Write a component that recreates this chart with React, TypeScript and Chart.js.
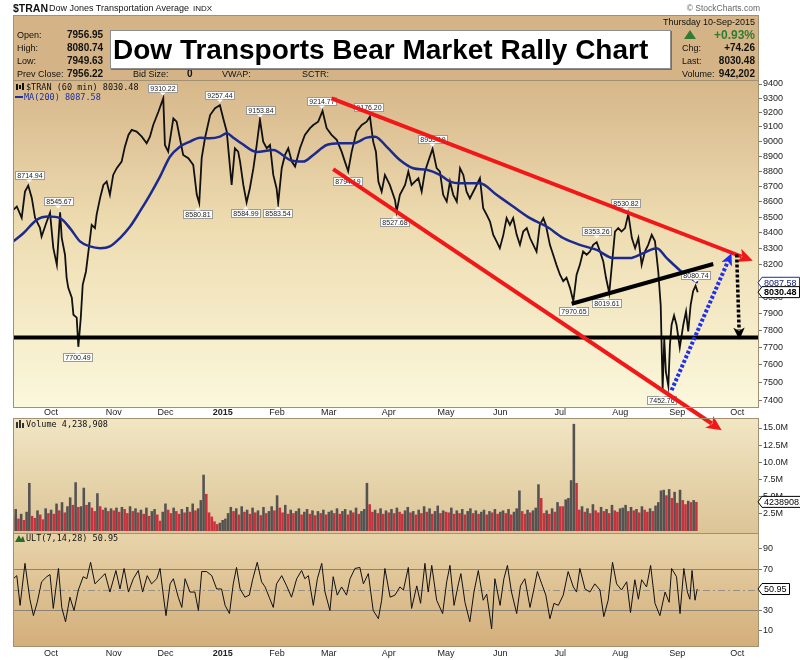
import React, { useEffect, useRef } from 'react';
import { Chart, registerables } from 'chart.js';

Chart.register(...registerables);

const FONT = '"Liberation Sans", Arial, sans-serif';
const MONO = '"DejaVu Sans Mono", "Liberation Mono", monospace';

// x values are trading-day numbers counted from 1-Oct-2014
const monthTicks = [0, 23, 42, 63, 83, 102, 124, 145, 165, 187, 209, 230, 252];
const monthLabels = ['Oct', 'Nov', 'Dec', '2015', 'Feb', 'Mar', 'Apr', 'May', 'Jun', 'Jul', 'Aug', 'Sep', 'Oct'];

const priceTicks = [7400, 7500, 7600, 7700, 7800, 7900, 8000, 8100, 8200, 8300, 8400, 8500, 8600, 8700, 8800, 8900, 9000, 9100, 9200, 9300, 9400];
const volumeTicks = [2.5, 5, 7.5, 10, 12.5, 15];
const ultTicks = [10, 30, 70, 90];
const ultBands = [30, 70];
const ultCenter = 50;

// $TRAN closes [day, price]
const tranCloses = [
  [-13.9, 8546], [-12.6, 8568], [-10.8, 8495], [-9.6, 8665], [-8.4, 8705], [-7.1, 8624], [-5.9, 8495], [-4.1, 8431], [-3.5, 8376], [-1.6, 8471],
  [-0.4, 8527], [0.8, 8304], [2.1, 8198], [3.3, 8530], [3.9, 8367], [5.1, 8261], [5.7, 8118], [6.3, 8057], [7.6, 7996], [8.2, 7894],
  [9.4, 7877], [10.0, 7705], [10.9, 7877], [11.6, 8075], [12.8, 8157], [14.0, 8323], [14.9, 8450], [16.1, 8429], [16.7, 8514], [18.0, 8624],
  [19.2, 8709], [20.4, 8731], [21.6, 8644], [22.8, 8775], [24.1, 8820], [25.9, 8864], [27.1, 8965], [28.4, 9045], [29.6, 9079], [31.4, 9068],
  [33.3, 9033], [35.1, 8988], [36.3, 9033], [37.5, 9113], [39.4, 9205], [41.2, 9300], [41.8, 8976], [43.0, 8931], [44.9, 9159], [46.1, 9136],
  [47.3, 9022], [48.5, 8909], [50.4, 8887], [52.2, 8842], [53.5, 8644], [54.4, 8590], [55.3, 8887], [56.5, 9022], [58.4, 9182], [60.2, 9229],
  [62.0, 9250], [63.2, 9159], [64.5, 9068], [65.4, 8887], [66.3, 8709], [67.5, 8954], [68.7, 8931], [69.4, 8864], [70.6, 8709], [71.8, 8595],
  [73.0, 8687], [74.3, 8820], [75.5, 8976], [76.7, 9150], [77.9, 8999], [79.2, 8954], [80.4, 8976], [81.6, 8775], [82.8, 8687], [83.4, 8590],
  [84.7, 8820], [85.9, 8909], [87.1, 8954], [88.4, 8864], [89.6, 8831], [91.4, 8954], [93.2, 9045], [95.1, 9091], [96.3, 9113], [98.1, 9136],
  [99.7, 9210], [101.2, 9091], [103.0, 9045], [104.9, 9011], [106.7, 8931], [107.9, 8864], [109.1, 8800], [110.4, 8931], [112.2, 9068], [114.1, 9113],
  [115.9, 9136], [117.1, 9171], [118.3, 8999], [119.3, 8931], [120.2, 8731], [121.4, 8665], [122.6, 8775], [124.4, 8709], [126.3, 8611], [126.9, 8535],
  [128.1, 8644], [130.0, 8709], [131.2, 8797], [132.4, 8709], [133.6, 8731], [134.9, 8753], [136.1, 8665], [137.3, 8797], [138.5, 8864], [140.1, 8950],
  [141.6, 8820], [142.8, 8797], [144.0, 8644], [145.3, 8600], [146.5, 8731], [147.7, 8644], [149.0, 8600], [150.2, 8820], [151.4, 8775], [152.6, 8665],
  [153.8, 8620], [155.7, 8687], [157.5, 8753], [158.7, 8557], [160.0, 8514], [161.2, 8471], [162.4, 8386], [163.6, 8345], [164.8, 8302], [166.1, 8386],
  [167.3, 8493], [168.5, 8450], [169.7, 8493], [171.0, 8386], [172.2, 8323], [173.4, 8407], [174.7, 8429], [175.9, 8366], [177.1, 8323], [178.3, 8281],
  [179.5, 8450], [180.8, 8493], [181.7, 8450], [183.2, 8323], [184.4, 8261], [185.6, 8198], [186.9, 8137], [188.1, 8097], [189.3, 8118], [190.6, 8055],
  [191.8, 7975], [193.0, 8137], [194.2, 8198], [195.4, 8281], [196.7, 8261], [197.9, 8281], [199.1, 8323], [200.4, 8340], [201.6, 8281], [202.8, 8219],
  [203.8, 8118], [205.0, 8025], [206.2, 8240], [207.1, 8407], [208.3, 8429], [209.5, 8407], [210.8, 8429], [212.0, 8520], [213.3, 8366], [214.5, 8302],
  [215.7, 8366], [216.9, 8198], [218.1, 8281], [219.3, 8323], [220.6, 8386], [221.8, 8345], [223.0, 8157], [223.9, 7950], [224.6, 7460], [225.2, 7750],
  [225.8, 7560], [226.7, 7480], [227.3, 7720], [227.9, 7835], [228.8, 7890], [229.7, 7835], [230.9, 7700], [232.2, 7835], [233.2, 7914], [234.0, 7795],
  [234.9, 7954], [235.8, 8036], [236.7, 8070], [237.5, 8030],
];

// MA(200) [day, value]
const ma200 = [
  [-13.9, 8345], [-10.2, 8396], [-5.3, 8482], [-1.0, 8503], [3.3, 8493], [6.9, 8429], [10.6, 8345], [14.3, 8313], [18.0, 8302], [21.6, 8313],
  [25.3, 8366], [29.0, 8439], [32.6, 8536], [36.3, 8644], [40.0, 8764], [43.7, 8898], [47.3, 8965], [51.0, 8999], [54.7, 9026], [58.3, 9022],
  [62.0, 9033], [64.5, 9056], [66.9, 9026], [69.7, 8990], [75.5, 8929], [81.6, 8943], [87.7, 8875], [92.6, 8864], [96.3, 8909], [101.2, 8976],
  [106.1, 8988], [111.0, 8988], [115.9, 9026], [119.0, 9033], [123.2, 8965], [128.1, 8875], [133.0, 8820], [137.9, 8809], [142.8, 8775], [146.5, 8731],
  [150.2, 8720], [155.0, 8720], [157.5, 8720], [163.6, 8644], [169.7, 8568], [175.9, 8493], [182.0, 8439], [188.1, 8366], [194.2, 8323], [200.4, 8291],
  [206.5, 8240], [212.6, 8240], [217.5, 8271], [222.4, 8302], [226.1, 8240], [230.9, 8165], [234.6, 8120], [237.5, 8088],
];

// daily volume (millions), first bar on day -14
const volumeStartDay = -14;
const volumes = [
  2.1, 3.2, 1.8, 2.5, 1.6, 2.8, 7.0, 2.2, 1.9, 3.0, 2.4, 1.7, 3.3, 2.6,
  3.1, 2.5, 4.0, 3.0, 4.2, 2.7, 3.6, 4.9, 3.8, 7.1, 3.5, 3.6, 6.3, 3.8, 4.2, 3.4, 2.9, 5.5, 3.6, 3.1, 3.4, 2.9, 3.3,
  3.0, 3.4, 2.8, 3.5, 3.2, 2.6, 3.6, 2.9, 3.3, 2.7, 3.1, 2.5, 3.4, 2.2, 2.9, 3.2, 2.4, 1.5, 2.8,
  4.0, 3.1, 2.6, 3.4, 2.9, 2.5, 3.2, 2.7, 3.5, 2.8, 4.0, 3.0, 3.3, 4.5, 8.2, 5.4, 2.7, 2.1, 1.4, 1.0, 1.2, 1.6,
  1.8, 2.6, 3.5, 2.9, 3.3, 2.4, 3.6, 2.8, 3.1, 2.5, 3.4, 2.7, 3.0, 2.3, 3.5, 2.6, 2.9, 3.6, 3.0, 5.2,
  3.4, 2.7, 3.8, 2.5, 3.1, 2.6, 2.9, 3.3, 2.4, 2.8, 3.2, 2.5, 3.0, 2.3, 2.9, 2.6, 3.1, 2.4, 2.8,
  3.0, 2.6, 3.3, 2.5, 2.9, 3.2, 2.4, 3.0, 2.7, 3.4, 2.5, 2.9, 3.2, 7.0, 3.9, 2.8, 3.1, 2.6, 3.3, 2.5, 3.0, 2.7,
  3.2, 2.6, 3.4, 2.8, 2.5, 3.0, 3.5, 2.7, 2.9, 2.4, 3.1, 2.6, 3.6, 2.8, 3.3, 2.5, 2.9, 3.7, 2.6, 3.0, 2.8,
  2.7, 3.4, 2.5, 3.0, 2.6, 3.2, 2.4, 2.9, 3.3, 2.6, 3.0, 2.5, 2.8, 3.1, 2.4, 2.9, 2.7, 3.2, 2.5, 2.8,
  3.0, 2.6, 3.2, 2.4, 2.8, 3.3, 5.9, 2.9, 2.5, 3.1, 2.7, 3.0, 3.4, 6.8, 4.8, 2.6, 3.0, 2.5, 3.3, 2.8, 4.2, 3.6,
  3.6, 4.6, 4.8, 7.4, 15.6, 7.0, 3.1, 3.6, 2.8, 3.3, 2.6, 3.9, 3.0, 2.7, 3.5, 2.9, 3.2, 2.6, 3.8, 3.0, 2.8, 3.3,
  3.4, 3.8, 2.9, 3.5, 3.0, 3.2, 2.7, 3.6, 3.1, 2.8, 3.3, 2.9, 3.7, 4.2, 5.9, 6.0, 5.2, 6.1, 4.8, 5.7, 4.1,
  6.0, 4.5, 3.9, 4.4, 4.2, 4.5, 4.24,
];

// ULT(7,14,28) [day, value]
const ultPoints = [
  [-13.9, 61], [-12.6, 64], [-11.4, 35], [-9.6, 76], [-7.8, 41], [-6.5, 25], [-5.1, 38], [-3.5, 58], [-1.6, 63], [-0.4, 65],
  [0.8, 32], [2.7, 71], [3.9, 33], [5.3, 19], [6.9, 43], [8.4, 30], [10.0, 50], [11.8, 63], [13.1, 61], [14.5, 77],
  [16.1, 56], [18.0, 61], [19.8, 66], [21.6, 48], [23.8, 69], [25.3, 51], [26.8, 71], [28.4, 48], [30.2, 61], [32.0, 69],
  [33.6, 48], [35.3, 64], [36.9, 56], [38.8, 61], [40.0, 71], [41.2, 45], [42.2, 25], [43.7, 56], [44.9, 61], [46.7, 43],
  [48.0, 33], [49.2, 61], [51.0, 48], [52.8, 48], [54.1, 30], [55.3, 68], [57.1, 68], [59.0, 64], [60.8, 51], [62.6, 51],
  [63.9, 35], [65.5, 27], [66.9, 56], [68.1, 72], [69.4, 51], [71.2, 43], [72.8, 45], [74.0, 60], [75.7, 77], [77.3, 58],
  [78.6, 53], [80.1, 43], [81.6, 33], [82.8, 56], [84.7, 64], [86.5, 54], [88.3, 43], [90.2, 61], [92.0, 69], [93.2, 61],
  [94.5, 64], [96.3, 35], [97.8, 61], [99.4, 76], [100.6, 48], [102.4, 30], [103.6, 63], [105.1, 45], [106.7, 53], [108.5, 45],
  [109.8, 61], [111.6, 71], [113.4, 72], [114.7, 56], [116.5, 66], [118.3, 30], [120.2, 22], [121.4, 40], [122.6, 71], [124.5, 43],
  [126.3, 45], [128.1, 53], [129.4, 50], [131.2, 72], [132.4, 32], [134.3, 54], [135.7, 37], [137.3, 76], [138.5, 48], [139.8, 74],
  [141.6, 40], [143.8, 27], [145.3, 58], [146.5, 74], [148.0, 35], [149.6, 56], [150.5, 66], [152.0, 38], [153.8, 19], [155.3, 48],
  [156.9, 69], [158.7, 40], [160.0, 46], [161.8, 12], [163.0, 61], [164.9, 35], [166.3, 61], [167.6, 74], [169.1, 48], [171.0, 27],
  [172.4, 54], [174.0, 61], [175.9, 33], [177.1, 48], [178.6, 68], [180.2, 56], [181.7, 45], [183.2, 22], [184.7, 37], [186.3, 35],
  [188.1, 45], [189.9, 68], [191.8, 53], [193.0, 48], [194.2, 71], [196.1, 51], [197.9, 48], [199.7, 56], [201.6, 50], [203.0, 24],
  [204.6, 40], [206.2, 77], [207.7, 56], [209.5, 50], [211.4, 58], [212.8, 28], [214.4, 60], [215.7, 41], [216.9, 60], [218.7, 53],
  [220.2, 74], [221.8, 37], [223.6, 25], [225.5, 48], [227.0, 38], [227.9, 71], [229.7, 63], [231.0, 27], [232.4, 71], [233.7, 48],
  [234.6, 41], [235.4, 69], [236.5, 40], [237.3, 51],
];

// labelled pivots
const pivotDays = [-8.0, 2.6, 9.8, 41.0, 53.8, 62.0, 71.5, 76.8, 83.3, 99.4, 108.9, 116.5, 126.3, 140.0, 192.0, 200.4, 204.0, 211.1, 224.2, 236.7];
const pivotPrices = [8714.94, 8545.67, 7700.49, 9310.22, 8580.81, 9257.44, 8584.99, 9153.84, 8583.54, 9214.77, 8794.19, 9176.20, 8527.68, 8955.19, 7970.65, 8353.26, 8019.61, 8530.82, 7452.76, 8080.74];
const pivotIsHigh = [true, true, false, true, false, true, false, true, false, true, false, true, false, true, false, true, false, true, false, true];

// hand-drawn annotations [day1, price1, day2, price2]
const supportLevel = 7760;
const upperChannel = [103.0, 9299, 257.7, 8223];
const lowerChannel = [103.6, 8814, 246.3, 7234];
const risingSupport = [191.2, 7960, 243.2, 8203];
const reboundArrow = [227.9, 7456, 249.9, 8270];
const dropArrow = [251.8, 8262, 252.8, 7747];

const lastClose = 8030.48;
const lastMA = 8087.58;
const lastVolumeText = '4238908.0';
const lastULT = 50.95;

const P = { left: 13, right: 759, priceTop: 80, priceBottom: 407, volTop: 418, volBottom: 533, ultBottom: 647 };

function fillPanel(ctx, top, bottom, stops) {
  const g = ctx.createLinearGradient(0, top, 0, bottom);
  stops.forEach((s) => g.addColorStop(s[0], s[1]));
  ctx.fillStyle = g;
  ctx.fillRect(P.left, top, P.right - P.left, bottom - top);
}

function strokePanel(ctx, top, bottom) {
  ctx.strokeStyle = '#a39070';
  ctx.lineWidth = 1;
  ctx.strokeRect(P.left + 0.5, top + 0.5, P.right - P.left - 1, bottom - top - 1);
}

function arrowHead(ctx, x1, y1, x2, y2, len, wid, color) {
  const a = Math.atan2(y2 - y1, x2 - x1);
  ctx.save();
  ctx.translate(x2, y2);
  ctx.rotate(a);
  ctx.beginPath();
  ctx.moveTo(0, 0);
  ctx.lineTo(-len, -wid / 2);
  ctx.lineTo(-len * 0.75, 0);
  ctx.lineTo(-len, wid / 2);
  ctx.closePath();
  ctx.fillStyle = color;
  ctx.fill();
  ctx.restore();
}

function segment(ctx, chart, seg, color, width, dash, head) {
  const xs = chart.scales.x;
  const ps = chart.scales.price;
  const x1 = xs.getPixelForValue(seg[0]);
  const y1 = ps.getPixelForValue(seg[1]);
  const x2 = xs.getPixelForValue(seg[2]);
  const y2 = ps.getPixelForValue(seg[3]);
  let ex = x2;
  let ey = y2;
  if (head) {
    const L = Math.hypot(x2 - x1, y2 - y1);
    ex = x2 - ((x2 - x1) / L) * head * 0.8;
    ey = y2 - ((y2 - y1) / L) * head * 0.8;
  }
  ctx.save();
  ctx.strokeStyle = color;
  ctx.lineWidth = width;
  ctx.setLineDash(dash);
  ctx.lineCap = 'butt';
  ctx.beginPath();
  ctx.moveTo(x1, y1);
  ctx.lineTo(ex, ey);
  ctx.stroke();
  ctx.restore();
  if (head) arrowHead(ctx, x1, y1, x2, y2, head, head * 0.95, color);
}

function pivotLabel(ctx, x, y, text, high) {
  ctx.font = '7px ' + FONT;
  const w = Math.round(ctx.measureText(text).width + 4);
  const h = 8;
  const bx = Math.round(x - w / 2);
  const by = Math.round(high ? y - 5 - h : y + 5);
  ctx.fillStyle = '#ffffff';
  ctx.fillRect(bx, by, w, h);
  ctx.strokeStyle = '#9a9a9a';
  ctx.lineWidth = 1;
  ctx.strokeRect(bx + 0.5, by + 0.5, w, h);
  ctx.beginPath();
  if (high) {
    ctx.moveTo(x - 3, by + h + 0.5);
    ctx.lineTo(x + 3, by + h + 0.5);
    ctx.lineTo(x, by + h + 3.5);
  } else {
    ctx.moveTo(x - 3, by + 0.5);
    ctx.lineTo(x + 3, by + 0.5);
    ctx.lineTo(x, by - 2.5);
  }
  ctx.closePath();
  ctx.fillStyle = '#ffffff';
  ctx.fill();
  ctx.fillStyle = '#222';
  ctx.textAlign = 'center';
  ctx.textBaseline = 'middle';
  ctx.fillText(text, bx + w / 2 + 0.5, by + h / 2 + 1);
}

function valueTag(ctx, y, text, border, color, bold) {
  ctx.font = (bold ? 'bold ' : '') + '9px ' + FONT;
  const w = ctx.measureText(text).width + 5;
  const x0 = P.right - 1;
  const h = 11;
  ctx.beginPath();
  ctx.moveTo(x0, y);
  ctx.lineTo(x0 + 4, y - h / 2);
  ctx.lineTo(x0 + 4 + w, y - h / 2);
  ctx.lineTo(x0 + 4 + w, y + h / 2);
  ctx.lineTo(x0 + 4, y + h / 2);
  ctx.closePath();
  ctx.fillStyle = '#ffffff';
  ctx.fill();
  ctx.strokeStyle = border;
  ctx.lineWidth = 1;
  ctx.stroke();
  ctx.fillStyle = color;
  ctx.textAlign = 'left';
  ctx.textBaseline = 'middle';
  ctx.fillText(text, x0 + 6, y + 0.5);
}

function axisLabels(ctx, scale, values, fmt) {
  ctx.font = '9px ' + FONT;
  ctx.fillStyle = '#222';
  ctx.textAlign = 'left';
  ctx.textBaseline = 'middle';
  values.forEach((v) => {
    ctx.fillText(fmt(v), P.right + 4, scale.getPixelForValue(v));
  });
}

const panelPlugin = {
  id: 'stockPanels',
  beforeDraw(chart) {
    const ctx = chart.ctx;
    ctx.save();
    ctx.fillStyle = '#ffffff';
    ctx.fillRect(0, 0, chart.width, chart.height);
    fillPanel(ctx, P.priceTop, P.priceBottom, [[0, '#d6b78a'], [0.45, '#eedcb1'], [1, '#fbf8dc']]);
    fillPanel(ctx, P.volTop, P.volBottom, [[0, '#f1e6c4'], [1, '#dcc496']]);
    fillPanel(ctx, P.volBottom, P.ultBottom, [[0, '#e8d4aa'], [1, '#d3ae7b']]);
    ctx.restore();
  },
  beforeDatasetsDraw(chart) {
    const ctx = chart.ctx;
    const us = chart.scales.ult;
    ctx.save();
    ctx.strokeStyle = '#8c8270';
    ctx.lineWidth = 1;
    ultBands.forEach((v) => {
      const y = Math.round(us.getPixelForValue(v)) + 0.5;
      ctx.beginPath();
      ctx.moveTo(P.left, y);
      ctx.lineTo(P.right, y);
      ctx.stroke();
    });
    ctx.strokeStyle = '#9a9080';
    ctx.setLineDash([7, 3, 2, 3]);
    const yc = Math.round(us.getPixelForValue(ultCenter)) + 0.5;
    ctx.beginPath();
    ctx.moveTo(P.left, yc);
    ctx.lineTo(P.right, yc);
    ctx.stroke();
    ctx.restore();
  },
  afterDatasetsDraw(chart) {
    const ctx = chart.ctx;
    const xs = chart.scales.x;
    const ps = chart.scales.price;
    ctx.save();
    pivotDays.forEach((d, i) => {
      pivotLabel(ctx, xs.getPixelForValue(d), ps.getPixelForValue(pivotPrices[i]), pivotPrices[i].toFixed(2), pivotIsHigh[i]);
    });
    const ys = ps.getPixelForValue(supportLevel);
    ctx.strokeStyle = '#000';
    ctx.lineWidth = 4;
    ctx.beginPath();
    ctx.moveTo(P.left, ys);
    ctx.lineTo(P.right, ys);
    ctx.stroke();
    segment(ctx, chart, upperChannel, '#f01818', 4, [], 15);
    segment(ctx, chart, lowerChannel, '#f01818', 4, [], 15);
    segment(ctx, chart, risingSupport, '#000', 4, [], 0);
    segment(ctx, chart, reboundArrow, '#1f2ff0', 4, [3, 2], 12);
    segment(ctx, chart, dropArrow, '#000', 3.5, [3, 2], 12);
    ctx.restore();
  },
  afterDraw(chart) {
    const ctx = chart.ctx;
    const xs = chart.scales.x;
    const ps = chart.scales.price;
    const vs = chart.scales.vol;
    const us = chart.scales.ult;
    ctx.save();
    strokePanel(ctx, P.priceTop, P.priceBottom + 1);
    strokePanel(ctx, P.volTop, P.volBottom + 1);
    strokePanel(ctx, P.volBottom, P.ultBottom);
    ctx.textAlign = 'center';
    ctx.textBaseline = 'middle';
    ctx.fillStyle = '#222';
    monthTicks.forEach((d, i) => {
      ctx.font = (monthLabels[i] === '2015' ? 'bold ' : '') + '9px ' + FONT;
      ctx.fillText(monthLabels[i], xs.getPixelForValue(d), 412.5);
    });
    axisLabels(ctx, vs, volumeTicks, (v) => v.toFixed(1) + 'M');
    axisLabels(ctx, us, ultTicks, (v) => String(v));
    ctx.textAlign = 'left';
    ctx.textBaseline = 'middle';
    ctx.font = '8.5px ' + MONO;
    ctx.fillStyle = '#111';
    ctx.fillRect(16, 84, 2, 6);
    ctx.fillRect(19, 85, 2, 4);
    ctx.fillRect(22, 83, 2, 7);
    ctx.fillText('$TRAN (60 min) 8030.48', 26, 88);
    ctx.fillStyle = '#1f2f9f';
    ctx.fillRect(15, 96, 8, 2);
    ctx.fillText('MA(200) 8087.58', 24, 97.5);
    ctx.fillStyle = '#333';
    ctx.fillRect(16, 422, 2, 6);
    ctx.fillRect(19, 420, 2, 8);
    ctx.fillRect(22, 423, 2, 5);
    ctx.fillStyle = '#111';
    ctx.fillText('Volume 4,238,908', 26, 425);
    ctx.fillStyle = '#2a6a2a';
    ctx.beginPath();
    ctx.moveTo(15, 542);
    ctx.lineTo(19, 535);
    ctx.lineTo(21, 539);
    ctx.lineTo(23, 536);
    ctx.lineTo(25, 542);
    ctx.closePath();
    ctx.fill();
    ctx.fillStyle = '#111';
    ctx.fillText('ULT(7,14,28) ' + lastULT.toFixed(2), 26, 539);
    valueTag(ctx, ps.getPixelForValue(lastMA), lastMA.toFixed(2), '#2030a0', '#102080', false);
    valueTag(ctx, ps.getPixelForValue(lastClose), lastClose.toFixed(2), '#000', '#000', true);
    valueTag(ctx, vs.getPixelForValue(volumes[volumes.length - 1]), lastVolumeText, '#000', '#000', false);
    valueTag(ctx, us.getPixelForValue(lastULT), lastULT.toFixed(2), '#000', '#000', false);
    ctx.restore();
  },
};

const axisTickFont = { family: FONT, size: 9 };
const sideGrid = { display: true, drawOnChartArea: false, drawTicks: true, tickLength: 3, color: '#777' };

function StockChart() {
  const ref = useRef(null);
  useEffect(() => {
    const canvas = ref.current;
    if (!canvas) return;
    const volColors = volumes.map((v, i) => (i > 0 && v > volumes[i - 1] ? '#555252' : '#c8323e'));
    const chart = new Chart(canvas, {
      type: 'line',
      data: {
        datasets: [
          {
            type: 'line',
            label: 'MA(200)',
            data: ma200.map((p) => ({ x: p[0], y: p[1] })),
            yAxisID: 'price',
            borderColor: '#1c2a8e',
            borderWidth: 2.5,
            pointRadius: 0,
            cubicInterpolationMode: 'monotone',
          },
          {
            type: 'line',
            label: '$TRAN',
            data: tranCloses.map((p) => ({ x: p[0], y: p[1] })),
            yAxisID: 'price',
            borderColor: '#111111',
            borderWidth: 1.8,
            pointRadius: 0,
            tension: 0,
          },
          {
            type: 'bar',
            label: 'Volume',
            data: volumes.map((v, i) => ({ x: volumeStartDay + i, y: v })),
            yAxisID: 'vol',
            backgroundColor: volColors,
            borderWidth: 0,
            barPercentage: 0.95,
            categoryPercentage: 1,
          },
          {
            type: 'line',
            label: 'ULT',
            data: ultPoints.map((p) => ({ x: p[0], y: p[1] })),
            yAxisID: 'ult',
            borderColor: '#111111',
            borderWidth: 1,
            pointRadius: 0,
            tension: 0,
          },
        ],
      },
      options: {
        responsive: false,
        maintainAspectRatio: false,
        animation: false,
        events: [],
        layout: { padding: { left: P.left, top: P.priceTop, right: 0, bottom: 0 } },
        plugins: { legend: { display: false }, tooltip: { enabled: false } },
        scales: {
          x: {
            type: 'linear',
            min: -14,
            max: 260,
            offset: false,
            bounds: 'data',
            position: 'bottom',
            grid: { display: false, drawTicks: false, tickLength: 0 },
            border: { display: false },
            afterBuildTicks: (s) => {
              s.ticks = monthTicks.map((v) => ({ value: v }));
            },
            afterFit: (s) => {
              s.height = 13;
            },
            ticks: {
              autoSkip: false,
              maxRotation: 0,
              padding: 1,
              color: '#222',
              callback: (v) => {
                const i = monthTicks.indexOf(Number(v));
                return i >= 0 ? monthLabels[i] : '';
              },
              font: (c) => ({ family: FONT, size: 9, weight: c && c.tick && c.tick.label === '2015' ? 'bold' : 'normal' }),
            },
          },
          price: {
            type: 'logarithmic',
            position: 'right',
            min: 6139.6,
            max: 9428.5,
            bounds: 'data',
            weight: 1,
            grid: sideGrid,
            border: { display: false },
            afterBuildTicks: (s) => {
              s.ticks = priceTicks.map((v) => ({ value: v }));
            },
            afterFit: (s) => {
              s.width = 41;
            },
            ticks: { font: axisTickFont, color: '#222', padding: 1, callback: (v) => String(v) },
          },
          vol: {
            type: 'linear',
            position: 'right',
            min: -16.893,
            max: 65.68,
            bounds: 'data',
            weight: 0,
            grid: sideGrid,
            border: { display: false },
            afterBuildTicks: (s) => {
              s.ticks = volumeTicks.map((v) => ({ value: v }));
            },
            afterFit: (s) => {
              s.width = 0;
            },
            ticks: { display: false },
          },
          ult: {
            type: 'linear',
            position: 'right',
            min: -5.61,
            max: 547.56,
            bounds: 'data',
            weight: 0,
            grid: sideGrid,
            border: { display: false },
            afterBuildTicks: (s) => {
              s.ticks = ultTicks.map((v) => ({ value: v }));
            },
            afterFit: (s) => {
              s.width = 0;
            },
            ticks: { display: false },
          },
        },
      },
      plugins: [panelPlugin],
    });
    return () => chart.destroy();
  }, []);
  return <canvas ref={ref} width={800} height={660} style={{ position: 'absolute', left: 0, top: 0, width: 800, height: 660 }} />;
}

function Txt(props) {
  const { x, y, size, bold, color, align, children, family } = props;
  const style = {
    position: 'absolute',
    top: y - size * 0.5,
    fontFamily: family || FONT,
    fontSize: size,
    lineHeight: size + 'px',
    fontWeight: bold ? 'bold' : 'normal',
    color: color || '#111',
    whiteSpace: 'nowrap',
  };
  if (align === 'right') {
    style.right = 800 - x;
    style.textAlign = 'right';
  } else {
    style.left = x;
  }
  return <div style={style}>{children}</div>;
}

export default function App() {
  return (
    <div style={{ position: 'absolute', left: 0, top: 0, width: 800, height: 660, background: '#fff', overflow: 'hidden' }}>
      <StockChart />
      <Txt x={13} y={8} size={10.5} bold>$TRAN</Txt>
      <Txt x={49} y={8.5} size={9}>Dow Jones Transportation Average</Txt>
      <Txt x={193} y={8.5} size={8}>INDX</Txt>
      <Txt x={760} y={8.5} size={8.5} align="right" color="#666">© StockCharts.com</Txt>
      <div style={{ position: 'absolute', left: P.left, top: 15, width: P.right - P.left, height: 66, boxSizing: 'border-box', background: '#d4b486', border: '1px solid #a39070' }} />
      <Txt x={17} y={35} size={9}>Open:</Txt>
      <Txt x={17} y={48} size={9}>High:</Txt>
      <Txt x={17} y={61} size={9}>Low:</Txt>
      <Txt x={17} y={74} size={9}>Prev Close:</Txt>
      <Txt x={67} y={35} size={10} bold>7956.95</Txt>
      <Txt x={67} y={48} size={10} bold>8080.74</Txt>
      <Txt x={67} y={61} size={10} bold>7949.63</Txt>
      <Txt x={67} y={74} size={10} bold>7956.22</Txt>
      <Txt x={133} y={74} size={9}>Bid Size:</Txt>
      <Txt x={187} y={74} size={10} bold>0</Txt>
      <Txt x={222} y={74} size={9}>VWAP:</Txt>
      <Txt x={302} y={74} size={9}>SCTR:</Txt>
      <div
        style={{
          position: 'absolute',
          left: 110,
          top: 30,
          width: 561,
          height: 39,
          boxSizing: 'border-box',
          background: '#fff',
          border: '1px solid #8e8e8e',
          boxShadow: '1px 1px 0 #6f6f6f',
          fontFamily: FONT,
          fontWeight: 'bold',
          fontSize: 28,
          lineHeight: '37px',
          paddingLeft: 2,
          color: '#000',
          whiteSpace: 'nowrap',
        }}
      >
        Dow Transports Bear Market Rally Chart
      </div>
      <Txt x={755} y={22} size={9} align="right">Thursday 10-Sep-2015</Txt>
      <div style={{ position: 'absolute', left: 684, top: 30, width: 0, height: 0, borderLeft: '6px solid transparent', borderRight: '6px solid transparent', borderBottom: '9px solid #2f7d35' }} />
      <Txt x={755} y={35} size={12} bold align="right" color="#2f7d35">+0.93%</Txt>
      <Txt x={682} y={48} size={9}>Chg:</Txt>
      <Txt x={755} y={48} size={10} bold align="right">+74.26</Txt>
      <Txt x={682} y={61} size={9}>Last:</Txt>
      <Txt x={755} y={61} size={10} bold align="right">8030.48</Txt>
      <Txt x={682} y={74} size={9}>Volume:</Txt>
      <Txt x={755} y={74} size={10} bold align="right">942,202</Txt>
    </div>
  );
}
